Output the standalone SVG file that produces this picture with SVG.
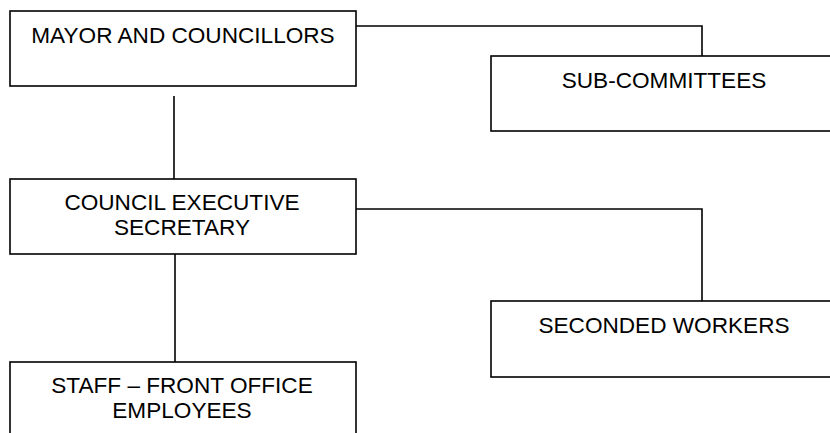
<svg xmlns="http://www.w3.org/2000/svg" width="830" height="433" viewBox="0 0 830 433">
<style>
.box{fill:#fff;stroke:#000;stroke-width:1.6}
.ln{fill:none;stroke:#000;stroke-width:1.6}
text{font-family:"Liberation Sans",Arial,sans-serif;font-size:22.6px;fill:#000;text-anchor:middle}
</style>
<rect width="830" height="433" fill="#fff"/>
<g id="connectors">
<polyline class="ln" points="356,26 702,26 702,56"/>
<line class="ln" x1="174" y1="96" x2="174" y2="186"/>
<polyline class="ln" points="356,209 702,209 702,301"/>
<line class="ln" x1="175" y1="254" x2="175" y2="362"/>
</g>
<g id="mayor">
<rect class="box" x="10" y="11" width="346" height="75"/>
<text x="183" y="43">MAYOR AND COUNCILLORS</text>
</g>
<g id="subcommittees">
<rect class="box" x="491" y="56" width="350" height="75"/>
<text x="664" y="88">SUB-COMMITTEES</text>
</g>
<g id="secretary">
<rect class="box" x="10" y="179" width="346" height="75"/>
<text x="182" y="210">COUNCIL EXECUTIVE</text>
<text x="182" y="235">SECRETARY</text>
</g>
<g id="seconded">
<rect class="box" x="491" y="301" width="350" height="76"/>
<text x="664" y="333">SECONDED WORKERS</text>
</g>
<g id="staff">
<rect class="box" x="10" y="362" width="346" height="90"/>
<text x="182" y="393">STAFF – FRONT OFFICE</text>
<text x="182" y="418">EMPLOYEES</text>
</g>
</svg>
